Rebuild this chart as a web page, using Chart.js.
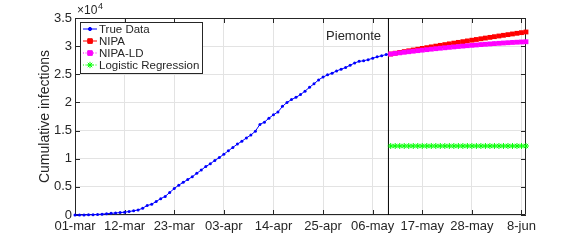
<!DOCTYPE html>
<html>
<head>
<meta charset="utf-8">
<script src="https://cdn.jsdelivr.net/npm/chart.js@4"></script>
<style>
  html, body { margin: 0; padding: 0; background: #fff; }
  #wrap { width: 581px; height: 242px; }
</style>
</head>
<body>
<div id="wrap"><canvas id="myChart" width="581" height="242"></canvas></div>
<script>
// days counted from 01-mar
const tickDays = [0, 11, 22, 33, 44, 55, 66, 77, 88, 99];
const tickLabels = ["01-mar", "12-mar", "23-mar", "03-apr", "14-apr", "25-apr", "06-may", "17-may", "28-may", "8-jun"];
const yTicks = [0, 5000, 10000, 15000, 20000, 25000, 30000, 35000];
const yTitle = "Cumulative infections";
const regionName = "Piemonte";
const splitDay = 69.5;
const predStartDay = 70;

// True Data, one value per day from 01-mar
const trueData = [
  0, 5, 10, 40, 60, 100, 150, 230, 300, 360,
  430, 500, 620, 750, 900, 1200, 1700, 1900, 2400, 2900,
  3300, 4000, 4700, 5300, 5800, 6300, 6800, 7400, 8000, 8600,
  9100, 9700, 10200, 10800, 11400, 12000, 12600, 13100, 13700, 14200,
  14900, 16100, 16500, 17200, 17800, 18300, 19300, 20000, 20500, 20900,
  21400, 22000, 22700, 23300, 24000, 24500, 24900, 25200, 25600, 25900,
  26200, 26600, 27000, 27300, 27400, 27600, 27850, 28100, 28300, 28500,
  28680, 28790, 28890, 28990, 29090, 29180, 29270, 29360, 29450, 29540,
  29620, 29700, 29780, 29860, 29940, 30010, 30090, 30160, 30230, 30300,
  30370, 30430, 30490, 30550, 30610, 30660, 30710, 30760, 30800, 30840,
  30870
];

// predictions, one value per day from predStartDay
const nipa = [
  28600, 28745, 28889, 29032, 29174, 29315, 29455, 29594, 29732, 29869,
  30005, 30140, 30274, 30407, 30539, 30670, 30800, 30929, 31057, 31184,
  31310, 31435, 31559, 31682, 31804, 31925, 32045, 32164, 32282, 32399,
  32515
];
const nipaLD = [
  28600, 28705, 28808, 28908, 29006, 29102, 29195, 29286, 29375, 29462,
  29547, 29629, 29709, 29787, 29863, 29937, 30009, 30078, 30145, 30210,
  30273, 30334, 30393, 30450, 30505, 30557, 30607, 30654, 30699, 30740,
  30780
];
const logistic = [
  12260, 12260, 12260, 12260, 12260, 12260, 12260, 12260, 12260, 12260,
  12260, 12260, 12260, 12260, 12260, 12260, 12260, 12260, 12260, 12260,
  12260, 12260, 12260, 12260, 12260, 12260, 12260, 12260, 12260, 12260,
  12260
];

const FONT = "Liberation Sans, Arial, Helvetica, sans-serif";
const toPoints = (arr, start) => arr.map((v, i) => ({ x: start + i, y: v }));

const legendItems = [
  { label: "True Data", color: "#0000ff", style: "circle", dash: [], r: 1.6 },
  { label: "NIPA", color: "#ff0000", style: "rect", dash: [], r: 3.2 },
  { label: "NIPA-LD", color: "#ff00ff", style: "rect", dash: [1, 1.5], r: 3.2 },
  { label: "Logistic Regression", color: "#00ff00", style: "star", dash: [1, 1.5], r: 3.2 },
];

const framePlugin = {
  id: "frame",
  beforeDatasetsDraw(chart) {
    const { ctx, chartArea: a, scales } = chart;
    ctx.save();
    ctx.strokeStyle = "#262626";
    ctx.lineWidth = 1;
    ctx.beginPath();
    ctx.rect(a.left + 0.5, a.top + 0.5, a.right - a.left - 1, a.bottom - a.top - 1);
    ctx.stroke();
    ctx.beginPath();
    tickDays.forEach((d) => {
      const x = Math.round(scales.x.getPixelForValue(d)) + 0.5;
      ctx.moveTo(x, a.bottom); ctx.lineTo(x, a.bottom - 5);
      ctx.moveTo(x, a.top); ctx.lineTo(x, a.top + 5);
    });
    yTicks.forEach((v) => {
      const y = Math.round(scales.y.getPixelForValue(v)) + 0.5;
      ctx.moveTo(a.left, y); ctx.lineTo(a.left + 5, y);
      ctx.moveTo(a.right, y); ctx.lineTo(a.right - 5, y);
    });
    ctx.stroke();
    ctx.restore();
  },
  afterDraw(chart) {
    const { ctx, chartArea: a } = chart;
    ctx.save();
    ctx.fillStyle = "#262626";
    // y axis title
    ctx.save();
    ctx.translate(45, (a.top + a.bottom) / 2);
    ctx.rotate(-Math.PI / 2);
    ctx.font = "14px " + FONT;
    ctx.textAlign = "center";
    ctx.textBaseline = "middle";
    ctx.fillText(yTitle, 0, 0);
    ctx.restore();
    // exponent label
    ctx.textBaseline = "alphabetic";
    ctx.font = "12px " + FONT;
    ctx.fillText("\u00d710", a.left + 2, a.top - 4);
    ctx.font = "9px " + FONT;
    ctx.fillText("4", a.left + 23, a.top - 9);
    // region label
    ctx.font = "13px " + FONT;
    ctx.textAlign = "right";
    ctx.textBaseline = "middle";
    ctx.fillText(regionName, 381, 36);
    // legend
    const lx = a.left + 5, ly = a.top + 4, lw = 122, lh = 51;
    ctx.fillStyle = "#fff";
    ctx.fillRect(lx, ly, lw, lh);
    ctx.strokeStyle = "#262626";
    ctx.lineWidth = 1;
    ctx.strokeRect(lx + 0.5, ly + 0.5, lw, lh);
    ctx.font = "11.5px " + FONT;
    ctx.textAlign = "left";
    legendItems.forEach((it, i) => {
      const y = ly + 7 + i * 12;
      ctx.strokeStyle = it.color;
      ctx.setLineDash(it.dash);
      ctx.beginPath();
      ctx.moveTo(lx + 3, y); ctx.lineTo(lx + 17, y);
      ctx.stroke();
      ctx.setLineDash([]);
      Chart.helpers.drawPoint(ctx, { pointStyle: it.style, radius: it.r, rotation: 0, borderWidth: 1 }, lx + 10, y);
      ctx.fillStyle = it.color;
      if (it.style !== "star") {
        ctx.beginPath();
        if (it.style === "circle") ctx.arc(lx + 10, y, it.r, 0, Math.PI * 2);
        else ctx.rect(lx + 8, y - 2, 4.5, 4.5);
        ctx.fill();
      }
      ctx.fillStyle = "#262626";
      ctx.fillText(it.label, lx + 19, y + 0.5);
    });
    ctx.restore();
  },
};

const ctx = document.getElementById("myChart").getContext("2d");
const myChart = new Chart(ctx, {
  type: "line",
  data: {
    datasets: [
      {
        label: "NIPA-LD",
        data: toPoints(nipaLD, predStartDay),
        borderColor: "#ff00ff",
        backgroundColor: "#ff00ff",
        borderWidth: 1,
        borderDash: [1, 1.5],
        pointStyle: "rect",
        pointRadius: 3.4,
        pointBorderWidth: 0,
        order: 1,
      },
      {
        label: "NIPA",
        data: toPoints(nipa, predStartDay),
        borderColor: "#ff0000",
        backgroundColor: "#ff0000",
        borderWidth: 1,
        pointStyle: "rect",
        pointRadius: 3.4,
        pointBorderWidth: 0,
        order: 2,
      },
      {
        label: "Logistic Regression",
        data: toPoints(logistic, predStartDay),
        borderColor: "#00ff00",
        backgroundColor: "#00ff00",
        borderWidth: 1,
        borderDash: [1, 1.5],
        pointStyle: "star",
        pointRadius: 3,
        pointBorderWidth: 1,
        order: 3,
      },
      {
        label: "True Data",
        data: toPoints(trueData, 0),
        borderColor: "#0000ff",
        backgroundColor: "#0000ff",
        borderWidth: 1,
        pointStyle: "circle",
        pointRadius: 1.5,
        pointBorderWidth: 0,
        order: 4,
      },
      {
        label: "split",
        data: [{ x: splitDay, y: 0 }, { x: splitDay, y: 35000 }],
        borderColor: "#000",
        borderWidth: 1,
        pointRadius: 0,
        order: 5,
      },
    ],
  },
  options: {
    responsive: false,
    animation: false,
    clip: false,
    layout: { padding: { left: 0, right: 55, top: 18, bottom: 0 } },
    plugins: { legend: { display: false }, tooltip: { enabled: false } },
    scales: {
      x: {
        type: "linear",
        min: 0,
        max: 100,
        afterBuildTicks: (s) => { s.ticks = tickDays.map((v) => ({ value: v })); },
        afterFit: (s) => { s.height = 27; },
        grid: { color: "#e3e3e3", drawTicks: false },
        border: { display: false },
        ticks: {
          padding: 4,
          color: "#262626",
          font: { family: FONT, size: 13 },
          maxRotation: 0,
          autoSkip: false,
          callback: (v) => tickLabels[tickDays.indexOf(v)] ?? "",
        },
      },
      y: {
        min: 0,
        max: 35000,
        afterBuildTicks: (s) => { s.ticks = yTicks.map((v) => ({ value: v })); },
        afterFit: (s) => { s.width = 75; },
        grid: { color: "#e3e3e3", drawTicks: false },
        border: { display: false },
        ticks: {
          padding: 3,
          color: "#262626",
          font: { family: FONT, size: 13 },
          callback: (v) => String(v / 10000),
        },
      },
    },
  },
  plugins: [framePlugin],
});
</script>
</body>
</html>
